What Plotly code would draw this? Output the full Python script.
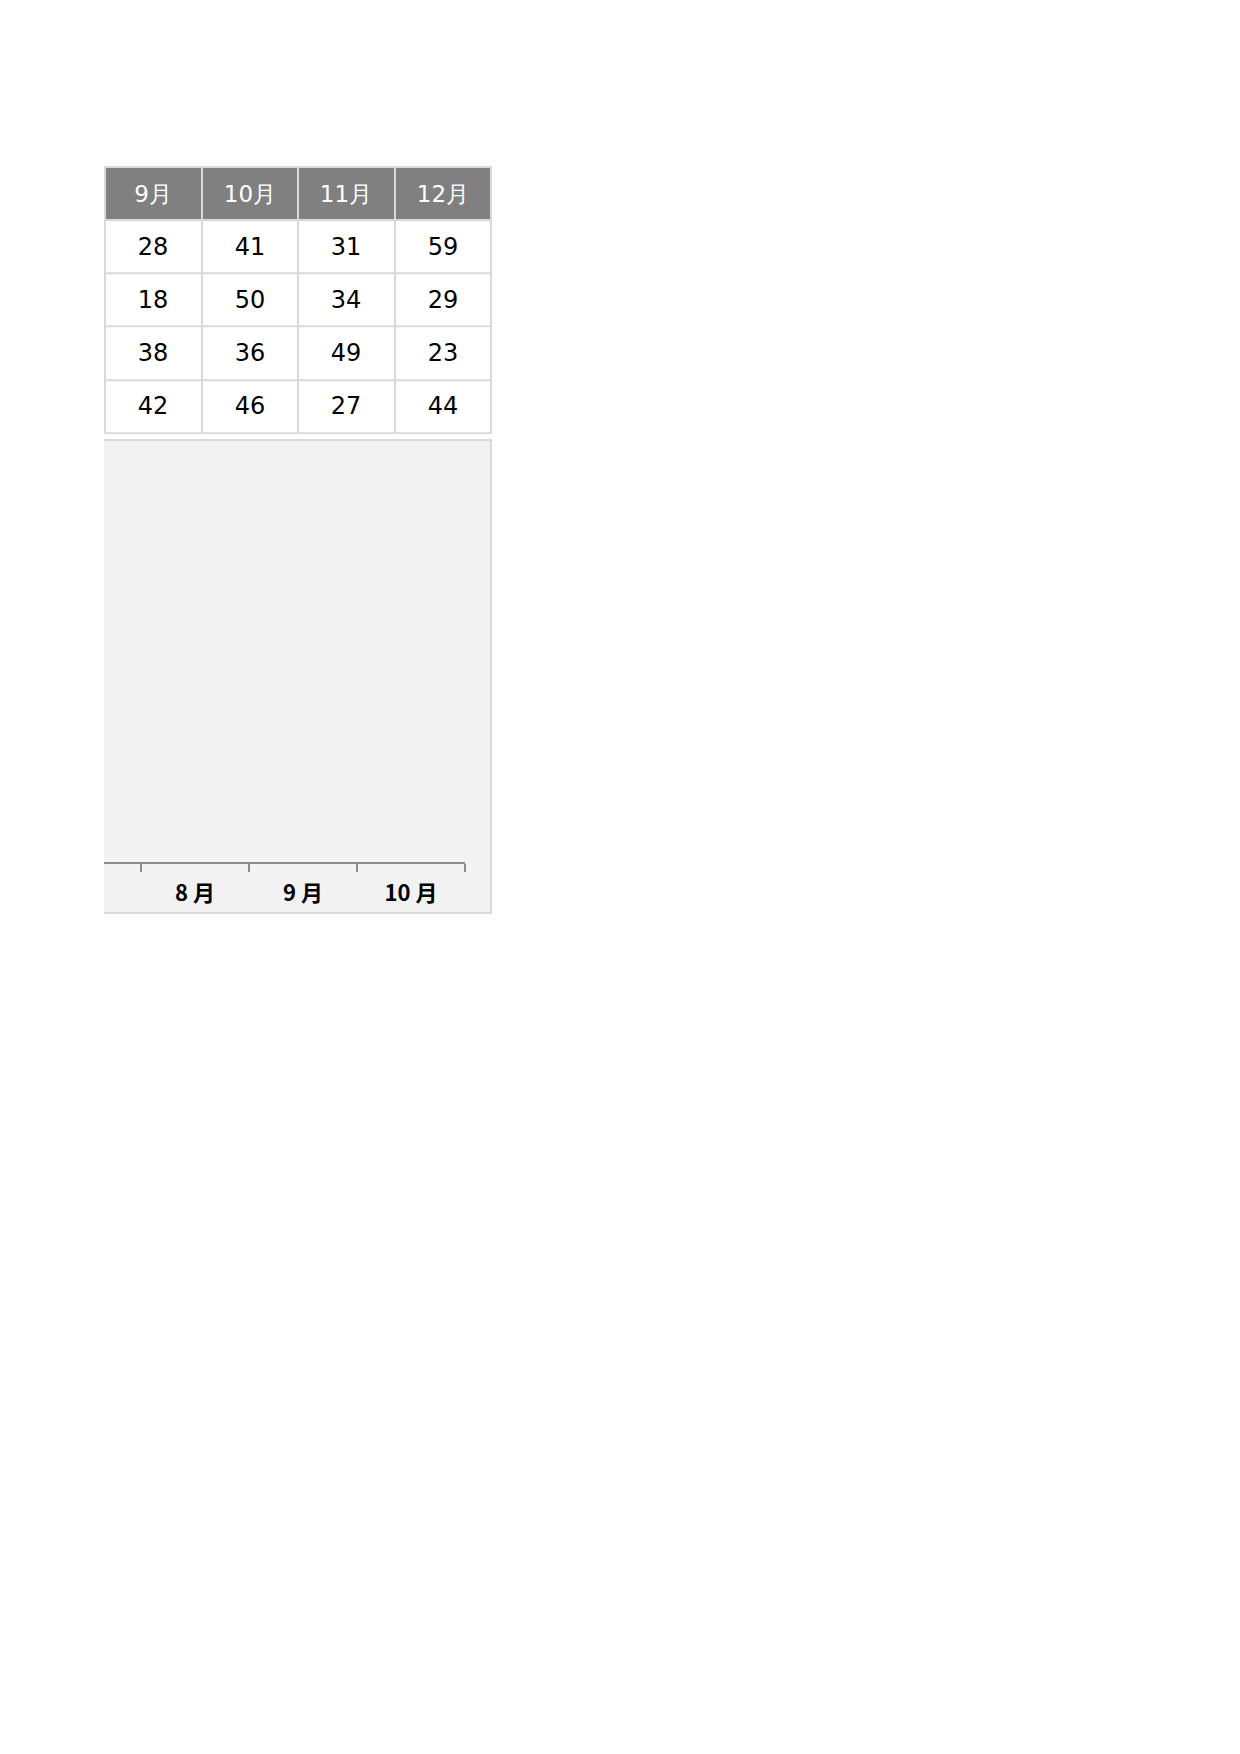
import plotly.graph_objects as go

W, H = 1240, 1754
OFF = 8  # default page margin of the html body

# ---- data ----
table_months = ["9月", "10月", "11月", "12月"]
col_9 = [28, 18, 38, 42]
col_10 = [41, 50, 36, 46]
col_11 = [31, 34, 49, 27]
col_12 = [59, 29, 23, 44]

axis_months = ["1 月", "2 月", "3 月", "4 月", "5 月", "6 月", "7 月", "8 月", "9 月", "10 月"]
axis_values = [None] * len(axis_months)  # no bars visible in the picture


def px_x(p):
    return (p - OFF) / W


def px_y(p):
    return 1 - (p - OFF) / H


fig = go.Figure()

# ---- table built as a grid of heatmap cells (centered text) ----
cols = [col_9, col_10, col_11, col_12]
body_rows = [list(r) for r in zip(*cols)]
col_idx = list(range(len(table_months)))

fig.add_trace(go.Heatmap(
    x=col_idx, y=[0], z=[[0] * len(table_months)],
    text=[table_months], texttemplate="%{text}",
    textfont=dict(family="DejaVu Sans", size=23, color="white"),
    colorscale=[[0, "#808080"], [1, "#808080"]], showscale=False,
    xgap=2, ygap=2, hoverinfo="skip", xaxis="x2", yaxis="y2",
))
fig.add_trace(go.Heatmap(
    x=col_idx, y=list(range(1, len(body_rows) + 1)), z=body_rows,
    texttemplate="%{z}",
    textfont=dict(family="DejaVu Sans", size=24, color="black"),
    colorscale=[[0, "white"], [1, "white"]], showscale=False,
    xgap=2, ygap=2, hoverinfo="skip", xaxis="x2", yaxis="y2",
))

# grid-line colour behind the cells
fig.add_shape(type="rect", xref="x2 domain", yref="y2 domain",
              x0=0, x1=1, y0=0, y1=1, fillcolor="#d9d9d9",
              line=dict(color="#d9d9d9", width=2), layer="below")

# ---- chart (clipped) ----
fig.add_trace(go.Bar(
    x=axis_months, y=axis_values, marker_color="#808080",
    xaxis="x", yaxis="y", showlegend=False,
))

fig.add_shape(type="rect", xref="paper", yref="paper",
              x0=px_x(104), x1=px_x(491), y0=px_y(913), y1=px_y(440),
              fillcolor="#f2f2f2", line=dict(width=0), layer="below")
fig.add_shape(type="path", xref="paper", yref="paper",
              path=f"M {px_x(104)} {px_y(440)} L {px_x(491)} {px_y(440)} L {px_x(491)} {px_y(913)} L {px_x(104)} {px_y(913)}",
              line=dict(color="#d9d9d9", width=2), layer="below")

ncat = len(axis_months)
right = ncat - 0.5
span = (465 - 104) / 108.0

fig.update_layout(
    width=W, height=H,
    margin=dict(l=0, r=0, t=0, b=0),
    paper_bgcolor="white",
    plot_bgcolor="rgba(0,0,0,0)",
    showlegend=False,
    xaxis=dict(
        domain=[px_x(104), px_x(465)],
        type="category",
        categoryorder="array",
        categoryarray=axis_months,
        range=[right - span, right],
        showline=True, linecolor="#8c8c8c", linewidth=1.5,
        ticks="outside", tickson="boundaries", ticklen=8, tickcolor="#8c8c8c", tickwidth=1.5,
        tickfont=dict(family="Noto Sans CJK SC", size=22, color="black", weight="bold"),
        ticklabelstandoff=11,
        showgrid=False, zeroline=False, fixedrange=True,
    ),
    yaxis=dict(
        domain=[px_y(862), px_y(450)],
        range=[0, 100],
        visible=False, showgrid=False, zeroline=False,
    ),
    xaxis2=dict(
        domain=[px_x(105), px_x(491)],
        range=[-0.5, len(table_months) - 0.5],
        visible=False, showgrid=False, zeroline=False, fixedrange=True,
    ),
    yaxis2=dict(
        domain=[px_y(433), px_y(167)],
        range=[len(body_rows) + 0.5, -0.5],
        visible=False, showgrid=False, zeroline=False, fixedrange=True,
    ),
)

fig.write_html("out.html")
